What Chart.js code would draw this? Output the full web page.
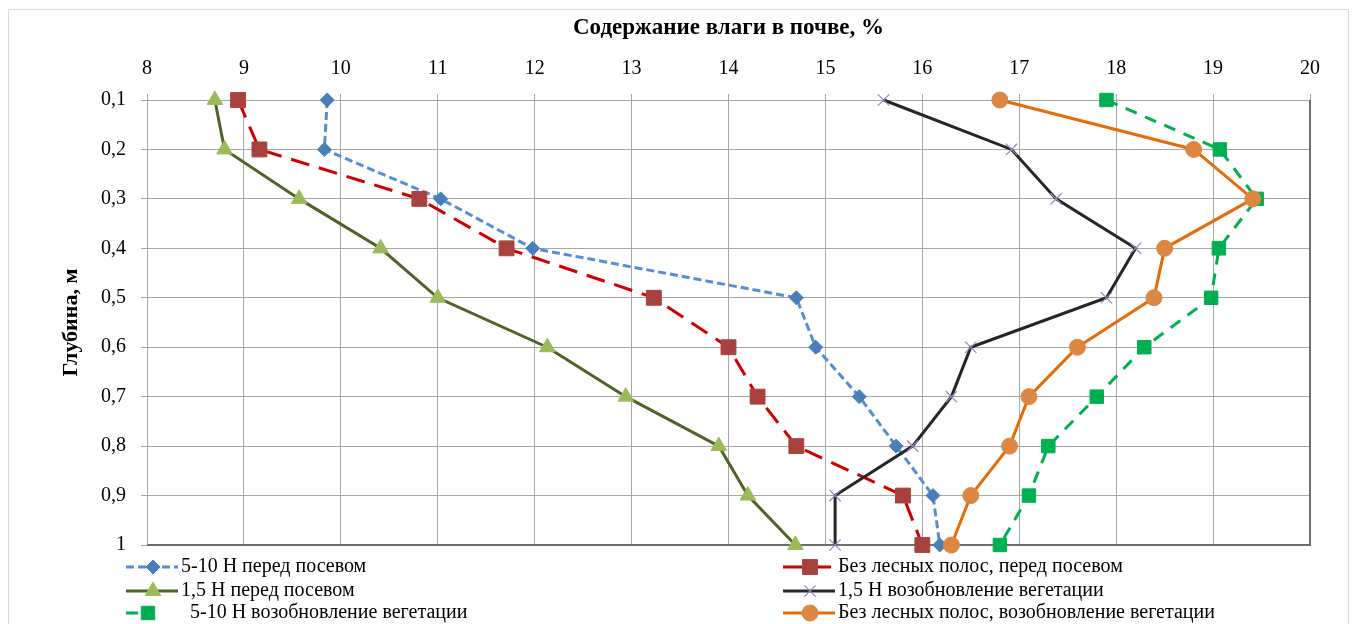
<!DOCTYPE html>
<html>
<head>
<meta charset="utf-8">
<script src="https://cdn.jsdelivr.net/npm/chart.js@4/dist/chart.umd.min.js"></script>
<style>
  html, body { margin: 0; padding: 0; background: #fff; }
  #wrap { position: relative; width: 1355px; height: 624px; }
</style>
</head>
<body>
<div id="wrap"><canvas id="chart" width="1355" height="624"></canvas></div>
<script>
// Depth of the soil layer, m
const depths = [0.1, 0.2, 0.3, 0.4, 0.5, 0.6, 0.7, 0.8, 0.9, 1.0];
const depthTickLabels = ['0,1', '0,2', '0,3', '0,4', '0,5', '0,6', '0,7', '0,8', '0,9', '1'];
// Soil moisture axis, %
const moistureTicks = [8, 9, 10, 11, 12, 13, 14, 15, 16, 17, 18, 19, 20];

// Soil moisture (%) by depth for each plot
const belt510Before   = [9.86, 9.83, 11.03, 11.98, 14.70, 14.90, 15.35, 15.73, 16.11, 16.18];
const noBeltBefore    = [8.94, 9.16, 10.81, 11.71, 13.23, 14.00, 14.30, 14.70, 15.80, 16.00];
const belt15Before    = [8.70, 8.80, 9.57, 10.41, 11.00, 12.13, 12.94, 13.90, 14.20, 14.69];
const belt15Spring    = [15.60, 16.92, 17.38, 18.20, 17.90, 16.50, 16.30, 15.90, 15.10, 15.10];
const belt510Spring   = [17.90, 19.07, 19.45, 19.06, 18.98, 18.29, 17.80, 17.30, 17.10, 16.80];
const noBeltSpring    = [16.80, 18.80, 19.41, 18.50, 18.39, 17.60, 17.10, 16.90, 16.50, 16.30];

const seriesLabels = [
  '5-10 Н перед посевом',
  'Без лесных полос, перед посевом',
  '1,5 Н перед посевом',
  '1,5 Н возобновление вегетации',
  '5-10 Н возобновление вегетации',
  'Без лесных полос, возобновление вегетации'
];

const FONT = '"Liberation Serif", "Times New Roman", serif';

function points(values) {
  return values.map((v, i) => ({ x: v, y: depths[i] }));
}

const datasets = [
  { label: seriesLabels[0], data: points(belt510Before), borderColor: '#558ED5', borderWidth: 3, borderDash: [8, 4],
    pointStyle: 'rectRot', pointRadius: 7, pointBackgroundColor: '#4A7EBB', pointBorderColor: '#4A7EBB', pointBorderWidth: 1, order: 6 },
  { label: seriesLabels[1], data: points(noBeltBefore), borderColor: '#D00000', borderWidth: 3, borderDash: [19, 10],
    pointStyle: 'rect', pointRadius: 10.5, pointBackgroundColor: '#A9423F', pointBorderColor: '#A9423F', pointBorderWidth: 1, order: 5 },
  { label: seriesLabels[2], data: points(belt15Before), borderColor: '#4F6228', borderWidth: 3, borderDash: [],
    pointStyle: 'triangle', pointRadius: 9, pointBackgroundColor: '#9BBB59', pointBorderColor: '#9BBB59', pointBorderWidth: 1, order: 4 },
  { label: seriesLabels[3], data: points(belt15Spring), borderColor: '#262626', borderWidth: 3, borderDash: [],
    pointStyle: 'crossRot', pointRadius: 8, pointBackgroundColor: '#9A86BC', pointBorderColor: '#9A86BC', pointBorderWidth: 1.2, order: 3 },
  { label: seriesLabels[4], data: points(belt510Spring), borderColor: '#00B050', borderWidth: 3, borderDash: [12, 9],
    pointStyle: 'rect', pointRadius: 9.5, pointBackgroundColor: '#00B050', pointBorderColor: '#00B050', pointBorderWidth: 1, order: 2 },
  { label: seriesLabels[5], data: points(noBeltSpring), borderColor: '#E46C0A', borderWidth: 3, borderDash: [],
    pointStyle: 'circle', pointRadius: 8, pointBackgroundColor: '#DD8842', pointBorderColor: '#DD8842', pointBorderWidth: 1, order: 1 }
];

// White background and the light outer frame of the chart
const framePlugin = {
  id: 'frame',
  beforeDraw(chart) {
    const ctx = chart.ctx;
    ctx.save();
    ctx.fillStyle = '#fff';
    ctx.fillRect(0, 0, chart.width, chart.height);
    ctx.strokeStyle = '#D9D9D9';
    ctx.lineWidth = 1;
    ctx.strokeRect(8.5, 9.5, 1340, 700);
    ctx.restore();
  }
};

// Darker right and bottom edges of the plot area
const plotEdgePlugin = {
  id: 'plotEdge',
  beforeDatasetsDraw(chart) {
    const { ctx, chartArea: a } = chart;
    ctx.save();
    ctx.strokeStyle = '#6E6E6E';
    ctx.lineWidth = 2;
    ctx.beginPath();
    ctx.moveTo(a.left, a.bottom);
    ctx.lineTo(a.right, a.bottom);
    ctx.lineTo(a.right, a.top);
    ctx.stroke();
    ctx.restore();
  }
};

// Two-column legend under the plot, filled row by row
const legendPlugin = {
  id: 'twoColLegend',
  afterDraw(chart, args, opts) {
    const ctx = chart.ctx;
    ctx.save();
    ctx.font = '20px ' + FONT;
    ctx.textBaseline = 'middle';
    ctx.textAlign = 'left';
    chart.data.datasets.forEach((ds, i) => {
      const col = i % 2, row = Math.floor(i / 2);
      const x0 = opts.columns[col];
      const y = opts.rows[row];
      const item = (opts.items && opts.items[i]) || {};
      const lineEnd = x0 + (item.lineLength || 52);
      const markerX = x0 + (item.markerOffset || 27);
      const textX = x0 + (item.textOffset || 55);
      ctx.save();
      ctx.strokeStyle = ds.borderColor;
      ctx.lineWidth = ds.borderWidth;
      ctx.setLineDash(ds.borderDash || []);
      ctx.beginPath();
      ctx.moveTo(x0, y);
      ctx.lineTo(lineEnd, y);
      ctx.stroke();
      ctx.setLineDash([]);
      ctx.fillStyle = ds.pointBackgroundColor;
      ctx.strokeStyle = ds.pointBorderColor;
      ctx.lineWidth = ds.pointBorderWidth;
      Chart.helpers.drawPoint(ctx, { pointStyle: ds.pointStyle, radius: ds.pointRadius, rotation: 0, borderWidth: ds.pointBorderWidth }, markerX, y);
      ctx.restore();
      ctx.fillStyle = '#000';
      ctx.fillText(ds.label, textX, y);
    });
    ctx.restore();
  }
};

new Chart(document.getElementById('chart'), {
  type: 'scatter',
  data: { datasets: datasets.map(d => Object.assign({ showLine: true, fill: false, tension: 0, clip: false }, d)) },
  options: {
    responsive: false,
    animation: false,
    devicePixelRatio: 1,
    layout: { padding: { left: 0, top: 0, right: 45, bottom: 79 } },
    plugins: {
      legend: { display: false },
      tooltip: { enabled: false },
      twoColLegend: {
        columns: [126, 783],
        rows: [567, 591, 613],
        items: { 4: { lineLength: 26, markerOffset: 22, textOffset: 64 } }
      }
    },
    scales: {
      x: {
        type: 'linear',
        position: 'top',
        min: 8,
        max: 20,
        afterBuildTicks: s => { s.ticks = moistureTicks.map(v => ({ value: v })); },
        afterFit: s => { s.height = 100; },
        ticks: { color: '#000', font: { family: FONT, size: 20 }, padding: 13, maxRotation: 0, autoSkip: false },
        grid: { color: '#A6A6A6', lineWidth: 1, tickLength: 6, tickColor: '#A6A6A6' },
        border: { color: '#A6A6A6', width: 1 },
        title: { display: true, text: 'Содержание влаги в почве, %', color: '#000',
                 font: { family: FONT, size: 23, weight: 'bold', lineHeight: 1.2 }, padding: { top: 14, bottom: 0 } }
      },
      y: {
        type: 'linear',
        reverse: true,
        min: 0.1,
        max: 1,
        afterBuildTicks: s => { s.ticks = depths.map(v => ({ value: v })); },
        afterFit: s => { s.width = 147; },
        ticks: { color: '#000', font: { family: FONT, size: 20 }, padding: 15, autoSkip: false,
                 callback: (v, i) => depthTickLabels[i] },
        grid: { color: '#A6A6A6', lineWidth: 1, tickLength: 6, tickColor: '#A6A6A6' },
        border: { color: '#A6A6A6', width: 1 },
        title: { display: true, text: 'Глубина, м', color: '#000',
                 font: { family: FONT, size: 22, weight: 'bold', lineHeight: 1.2 }, padding: { top: 58, bottom: 0 } }
      }
    }
  },
  plugins: [framePlugin, plotEdgePlugin, legendPlugin]
});
</script>
</body>
</html>
